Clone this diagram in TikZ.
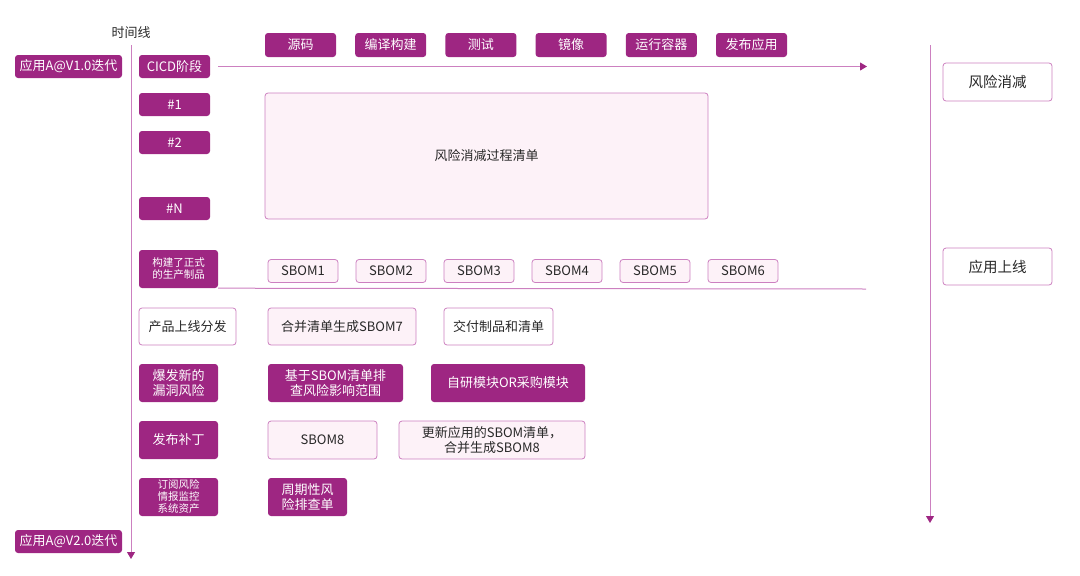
\documentclass[tikz,border=0pt]{standalone}
\usepackage{fontspec}
\setmainfont{Noto Sans CJK SC}
\usetikzlibrary{arrows.meta}

\definecolor{sbmag}{RGB}{158,38,130}
\definecolor{sbline}{RGB}{204,128,192}
\definecolor{sbpink}{RGB}{253,242,248}
\definecolor{sbtext}{RGB}{40,40,40}

\begin{document}
\begin{tikzpicture}[x=1pt, y=-1pt,
        darkbox/.style={rounded corners=3pt, fill=sbmag, text=white, inner sep=0pt, align=center, font=\fontsize{13}{15.5}\selectfont},
        pinkbox/.style={rounded corners=3pt, fill=sbpink, draw=sbline, line width=0.8pt, text=sbtext, inner sep=0pt, align=center, font=\fontsize{13}{15.5}\selectfont},
        whitebox/.style={pinkbox, fill=white},
        smalltxt/.style={font=\fontsize{10.5}{12}\selectfont},
        bigtxt/.style={font=\fontsize{14.5}{17}\selectfont},
        timeline/.style={draw=sbline, line width=1pt, -{Triangle[length=7pt, width=8pt, color=sbmag]}}
    ]
        \useasboundingbox (0,0) rectangle (1080,576);

        % Timeline on the left
        \node[font=\fontsize{13}{15}\selectfont, text=sbtext] (tl) at (131,33) {时间线};
        \coordinate (tltop) at (131,45);
        \coordinate (tlend) at (131,559);
        \draw[timeline] (tltop) -- (tlend);

        % Versions
        \node[darkbox, minimum width=107, minimum height=23] (ver1) at (68.5,66.5) {应用A@V1.0迭代};
        \node[darkbox, minimum width=107, minimum height=23] (ver2) at (68.5,541.5) {应用A@V2.0迭代};

        % CICD stage and its steps
        \node[darkbox, minimum width=71, minimum height=23] (cicd) at (174.5,66.5) {CICD阶段};
        \coordinate (cicdend) at (867,66.5);
        \draw[timeline] (cicd.east) ++(8,0) coordinate (cicdstart) -- (cicdend);
        \foreach \name/\txt [count=\i from 0] in {src/源码, build/编译构建, test/测试, image/镜像, run/运行容器, pub/发布应用} {
            \node[darkbox, minimum width=71, minimum height=24] (\name) at (300.5+90.2*\i,45) {\txt};
        }

        \node[darkbox, minimum width=71, minimum height=23] (step1) at (174.5,104.5) {\#1};
        \node[darkbox, minimum width=71, minimum height=23] (step2) at (174.5,142.5) {\#2};
        \node[darkbox, minimum width=71, minimum height=23] (stepN) at (174.5,208.5) {\#N};
        \node[pinkbox, minimum width=443, minimum height=126] (riskproc) at (486.5,156) {风险消减过程清单};

        % Production artefacts and SBOMs
        \node[darkbox, smalltxt, minimum width=79, minimum height=38] (built) at (178.5,269) {构建了正式\\的生产制品};
        \coordinate (builtend) at (866,289);
        \draw[sbline, line width=1pt] (built.south east) -- (builtend);
        \foreach \i in {1,...,6} {
            \node[pinkbox, minimum width=70, minimum height=23] (sbom\i) at (303+88*\i-88,271) {SBOM\i};
        }

        % Release
        \node[whitebox, minimum width=97, minimum height=37] (golive) at (187.5,326.5) {产品上线分发};
        \node[pinkbox, minimum width=148, minimum height=37] (sbom7) at (342,326.5) {合并清单生成SBOM7};
        \node[whitebox, minimum width=109, minimum height=37] (deliver) at (498.5,326.5) {交付制品和清单};

        % New vulnerability
        \node[darkbox, minimum width=79, minimum height=38] (vuln) at (178.5,383) {爆发新的\\漏洞风险};
        \node[darkbox, minimum width=135, minimum height=38] (scope) at (335.5,383) {基于SBOM清单排\\查风险影响范围};
        \node[darkbox, minimum width=154, minimum height=38] (module) at (508,383) {自研模块OR采购模块};

        % Patch
        \node[darkbox, minimum width=79, minimum height=38] (patch) at (178.5,440) {发布补丁};
        \node[pinkbox, minimum width=109, minimum height=38] (sbom8) at (322.5,440) {SBOM8};
        \node[pinkbox, minimum width=186, minimum height=38] (update) at (492,440) {更新应用的SBOM清单，\\合并生成SBOM8};

        % Monitoring
        \node[darkbox, smalltxt, minimum width=79, minimum height=38] (subscribe) at (178.5,497) {订阅风险\\情报监控\\系统资产};
        \node[darkbox, minimum width=79, minimum height=38] (periodic) at (307.5,497) {周期性风\\险排查单};

        % Timeline on the right
        \coordinate (rtop) at (930,45);
        \coordinate (rend) at (930,523);
        \draw[timeline] (rtop) -- (rend);
        \node[whitebox, bigtxt, minimum width=109, minimum height=38] (riskred) at (997.5,82) {风险消减};
        \node[whitebox, bigtxt, minimum width=109, minimum height=37] (launch) at (997.5,266.5) {应用上线};
    \end{tikzpicture}
\end{document}
